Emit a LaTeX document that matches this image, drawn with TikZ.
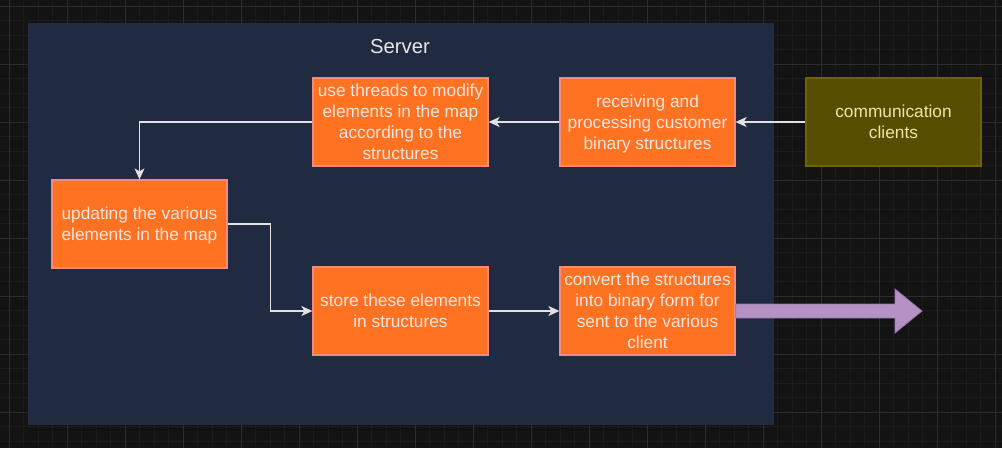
\documentclass[tikz,border=0pt]{standalone}
\usepackage{fontspec}
\setmainfont{Liberation Sans}
\usetikzlibrary{arrows.meta,calc}

\definecolor{canvas}{HTML}{131313}
\definecolor{gridminor}{HTML}{1C1C1C}
\definecolor{gridmajor}{HTML}{2C2C2C}
\definecolor{panel}{HTML}{202A40}
\definecolor{panelline}{HTML}{232C42}
\definecolor{stepfill}{HTML}{FF7222}
\definecolor{stepline}{HTML}{F28A80}
\definecolor{steptext}{HTML}{F4E6E2}
\definecolor{clientfill}{HTML}{574D00}
\definecolor{clientline}{HTML}{706400}
\definecolor{clienttext}{HTML}{EDE5A8}
\definecolor{wire}{HTML}{E2E2E2}
\definecolor{bigarrow}{HTML}{B592C4}
\definecolor{bigarrowline}{HTML}{9673A6}
\definecolor{titletext}{HTML}{E6E6E6}

\tikzset{
  stepbox/.style={draw=stepline, line width=1.3pt, fill=stepfill, text=steptext,
    minimum width=175pt, minimum height=88pt, inner sep=0pt, align=center,
    text depth=-1.3pt,
    font=\fontsize{17.3}{20.9}\selectfont},
  clientbox/.style={stepbox, draw=clientline, fill=clientfill, text=clienttext},
  flow/.style={draw=wire, line width=1.3pt,
    -{Stealth[length=11pt, width=10pt, inset=3pt]}},
}

\begin{document}
\begin{tikzpicture}[x=1pt, y=-1pt]
  % canvas and grid
  \fill[canvas] (0,0) rectangle (1002,448);
  \useasboundingbox (0,0) rectangle (1002,448);
  \begin{scope}
    \clip (0,0) rectangle (1002,448);
    \foreach \k in {0,...,68} {
      \pgfmathsetmacro\gx{9.3+14.5*\k}
      \draw[gridminor, line width=0.8pt] (\gx,0) -- (\gx,448);
    }
    \foreach \k in {0,...,30} {
      \pgfmathsetmacro\gy{6+14.5*\k}
      \draw[gridminor, line width=0.8pt] (0,\gy) -- (1002,\gy);
    }
    \foreach \k in {0,...,17} {
      \pgfmathsetmacro\gx{9.3+58*\k}
      \draw[gridmajor, line width=1pt] (\gx,0) -- (\gx,448);
    }
    \foreach \k in {0,...,7} {
      \pgfmathsetmacro\gy{6+58*\k}
      \draw[gridmajor, line width=1pt] (0,\gy) -- (1002,\gy);
    }
  \end{scope}

  % server container
  \node[draw=panelline, fill=panel, minimum width=745pt, minimum height=401pt,
        inner sep=0pt, anchor=north west] (server) at (28,23) {};
  \node[text=titletext, font=\fontsize{20.3}{24}\selectfont] (servertitle) at (400,46.5) {Server};

  % processing steps
  \node[stepbox] (threads) at (400.5,122)
    {use threads to modify\\elements in the map\\according to the\\structures};
  \node[stepbox] (receive) at (647.5,122)
    {receiving and\\processing customer\\binary structures};
  \node[clientbox] (clients) at (893.5,122) {communication\\clients};
  \node[stepbox] (update) at (139.5,224)
    {updating the various\\elements in the map};
  \node[stepbox] (store) at (400.5,311)
    {store these elements\\in structures};
  \node[stepbox] (convert) at (647.5,311)
    {convert the structures\\into binary form for\\sent to the various\\client};

  % connectors
  \draw[flow] (clients.west) -- (receive.east);
  \draw[flow] (receive.west) -- (threads.east);
  \draw[flow] (threads.west) -| (update.north);
  \draw[flow] (update.east) -- ++(43,0) |- (store.west);
  \draw[flow] (store.east) -- (convert.west);

  % outgoing block arrow
  \coordinate (outtip) at (922,311);
  \filldraw[fill=bigarrow, draw=bigarrowline, line width=0.8pt]
    ($(convert.east)+(0,-7)$) -- (895,304) -- (895,289) -- (outtip)
    -- (895,333) -- (895,318) -- ($(convert.east)+(0,7)$) -- cycle;
\end{tikzpicture}
\end{document}
